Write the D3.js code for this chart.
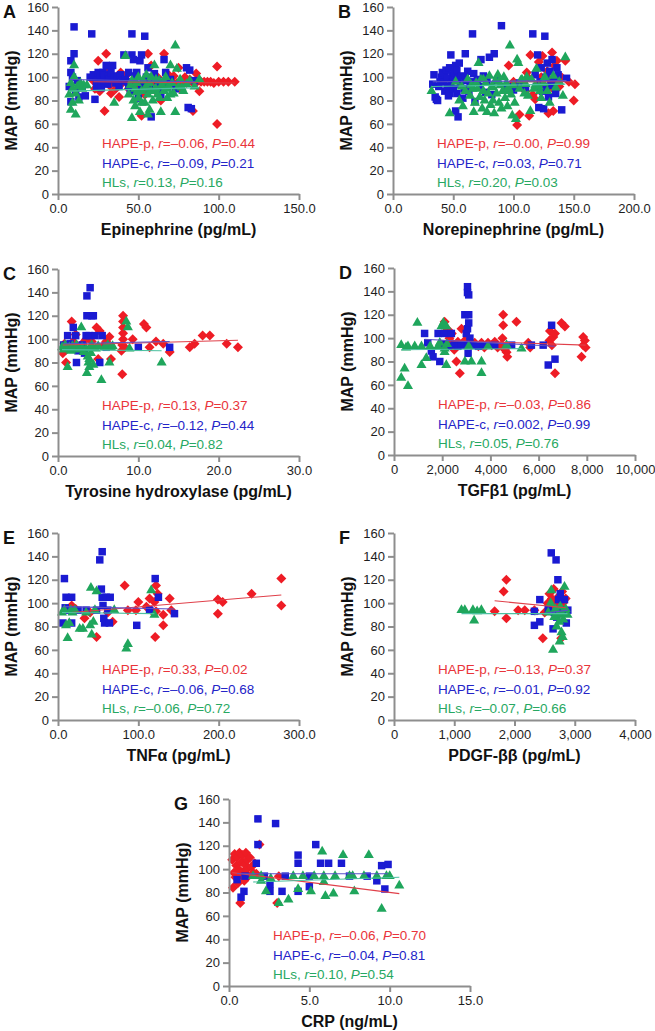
<!DOCTYPE html>
<html>
<head>
<meta charset="utf-8">
<script src="https://cdn.jsdelivr.net/npm/d3@7"></script>
<style>
  body { margin: 0; background: #fff; }
  text { font-family: "Liberation Sans", Arial, sans-serif; }
</style>
</head>
<body>
<svg id="chart" width="655" height="1031"></svg>
<script>
// ---- data (MAP in mmHg vs. each marker); p = HAPE-p, c = HAPE-c, hl = HLs ----
var epiP = [[22,97],[23,90],[24,102],[25,114],[26,88],[27,95],[28,100],[29,71],[30,120],[31,108],[32,93],[33,86],[34,100],[35,97],[36,90],[38,83],[39,104],[40,95],[42,101],[44,90],[46,96],[48,99],[50,92],[52,67],[54,85],[56,120],[58,110],[59,96],[61,88],[62,100],[64,80],[66,120],[67,93],[68,103],[70,97],[72,101],[74,95],[75,108],[76,90],[78,96],[79,100],[80,95],[82,98],[84,71],[85,94],[86,103],[88,88],[89,96],[91,96],[93,96],[95,96],[97,95],[99,109],[99,60],[100,96],[103,96],[106,96],[110,96]];
var epiC = [[7,92],[8,104],[8,79],[8,114],[9,100],[10,120],[10,143],[11,88],[12,97],[13,83],[15,92],[17,84],[20,100],[21,137],[22,102],[23,81],[24,96],[24,92],[25,104],[26,100],[27,91],[27,96],[28,104],[29,97],[29,102],[30,110],[31,101],[31,94],[32,98],[33,104],[34,110],[35,100],[36,95],[37,101],[38,92],[39,102],[40,97],[41,119],[42,98],[43,96],[44,104],[44,93],[45,88],[46,137],[46,119],[47,115],[48,101],[49,104],[50,82],[51,114],[52,119],[52,92],[53,96],[54,135],[55,100],[55,94],[56,108],[57,90],[58,66],[59,99],[60,103],[62,97],[63,91],[64,85],[66,115],[67,104],[68,95],[70,98],[73,90],[80,108],[81,74],[82,106],[83,73],[85,97]];
var epiHL = [[7,85],[8,72],[8,95],[9,78],[9,90],[10,110],[10,100],[11,68],[11,86],[12,92],[13,80],[14,95],[15,90],[16,93],[18,93],[35,78],[42,118],[44,85],[45,93],[46,65],[46,97],[47,80],[48,90],[48,75],[49,87],[49,95],[50,100],[50,82],[51,70],[52,88],[52,78],[53,97],[54,78],[54,90],[55,92],[55,102],[56,85],[56,68],[57,95],[57,72],[58,100],[58,88],[59,80],[60,110],[60,89],[61,90],[61,98],[62,85],[63,97],[63,82],[64,70],[64,92],[65,93],[66,88],[66,96],[67,100],[68,82],[68,90],[69,92],[70,110],[70,85],[71,95],[72,86],[73,127],[73,70],[74,107],[75,92],[76,98],[77,91],[78,88],[80,94],[82,97],[85,92],[88,98]];

var neP = [[96,110],[98,88],[100,96],[103,59],[105,68],[106,93],[108,95],[110,88],[111,104],[112,100],[113,67],[114,119],[116,85],[118,81],[120,94],[121,113],[123,100],[124,118],[126,90],[128,105],[129,69],[130,98],[132,121],[132,91],[133,71],[134,110],[136,114],[136,99],[138,92],[140,100],[143,114],[146,96],[150,80],[151,94]];
var neC = [[33,94],[34,102],[35,83],[36,81],[37,80],[38,92],[39,96],[40,100],[41,104],[42,96],[43,88],[43,102],[44,106],[45,99],[45,92],[46,84],[47,108],[47,86],[48,119],[48,95],[49,102],[50,90],[50,98],[51,104],[52,71],[52,110],[53,86],[53,106],[54,66],[54,99],[55,112],[56,94],[57,101],[58,82],[59,90],[60,120],[60,100],[61,97],[62,105],[63,88],[64,93],[65,96],[66,137],[67,103],[68,79],[70,98],[72,92],[73,115],[75,101],[77,87],[78,96],[80,117],[82,85],[84,120],[86,97],[90,144],[95,92],[100,89],[105,95],[110,91],[116,137],[118,102],[119,92],[120,119],[121,74],[122,96],[123,108],[124,88],[125,73],[126,135],[127,100],[127,90],[128,112],[129,83],[130,105],[131,93],[132,115],[133,95],[134,97],[135,86],[136,108],[137,102],[140,72],[144,99]];
var neHL = [[32,88],[47,69],[52,96],[55,80],[57,92],[58,75],[60,88],[62,98],[64,84],[65,93],[66,90],[67,70],[68,78],[69,95],[70,90],[71,112],[72,83],[73,98],[74,73],[75,88],[75,98],[76,80],[77,95],[78,70],[79,86],[80,101],[81,76],[82,92],[83,80],[83,91],[84,69],[85,97],[86,86],[87,102],[88,78],[88,96],[89,93],[90,73],[91,88],[92,100],[93,82],[94,95],[94,88],[95,75],[96,90],[97,127],[98,85],[99,67],[100,93],[101,78],[102,64],[103,115],[104,112],[105,90],[106,97],[107,98],[109,86],[110,94],[111,100],[112,84],[114,71],[115,98],[117,90],[118,93],[119,107],[121,92],[122,88],[123,82],[125,95],[126,100],[128,88],[130,78],[133,101],[135,91],[138,96],[141,84],[143,117]];

var thP = [[0.6,88],[0.8,96],[1.0,80],[1.0,91],[1.3,94],[1.7,115],[1.9,98],[2.2,104],[2.5,93],[3.0,96],[3.5,100],[4.2,98],[4.8,110],[5.0,83],[5.2,107],[5.7,95],[6.0,98],[6.4,102],[6.6,83],[7.9,90],[8.0,70],[8.0,95],[8.1,100],[8.1,105],[8.1,110],[8.1,115],[8.1,120],[8.3,93],[9.3,100],[10.7,113],[11.0,110],[11.4,93],[12.2,98],[13.1,96],[13.9,89],[16.4,93],[17.0,96],[18.0,103],[18.9,103],[21.0,96],[22.4,93]];
var thC = [[0.7,95],[1.2,103],[1.5,96],[1.9,110],[2.2,103],[2.3,80],[2.5,90],[3.0,95],[3.3,88],[3.5,103],[3.6,120],[3.6,137],[3.9,103],[4.0,144],[4.2,120],[4.4,120],[4.6,103],[5.2,80],[5.5,103],[6.0,93],[10.0,93],[13.9,93]];
var thHL = [[0.5,93],[0.7,91],[0.9,95],[1.1,92],[1.2,76],[1.4,93],[1.6,90],[1.8,94],[2.0,92],[2.3,95],[2.6,91],[2.9,110],[3.0,93],[3.2,89],[3.5,92],[3.6,71],[3.7,85],[3.8,80],[3.9,76],[3.9,83],[4.0,93],[4.1,88],[4.2,95],[4.4,78],[4.7,92],[5.0,94],[5.4,65],[5.8,93],[6.2,95],[6.4,80],[6.6,93],[6.8,94],[8.5,115],[8.7,110],[8.9,92],[12.9,80]];

var tgP = [[2100,114],[2200,108],[2300,100],[2400,104],[2450,95],[2500,90],[2590,80],[2650,97],[2730,70],[2800,108],[2940,98],[3200,94],[3350,96],[3500,93],[3630,96],[3750,92],[3900,96],[4050,94],[4180,97],[4300,92],[4460,94],[4500,100],[4530,120],[4530,111],[4600,90],[4670,88],[4700,84],[5080,114],[5570,96],[5650,92],[6450,98],[6470,106],[6550,94],[6610,101],[6680,104],[6680,70],[6950,113],[7090,110],[7780,84],[7850,101],[7850,94],[7920,98],[7950,92]];
var tgC = [[1270,104],[1400,96],[1550,89],[1620,84],[1830,104],[1900,80],[2000,95],[2100,104],[2250,93],[2380,104],[2500,94],[2650,93],[2800,94],[2940,120],[3000,104],[3050,108],[3050,144],[3050,139],[3075,87],[3075,94],[3100,137],[3100,113],[3100,120],[3150,100],[3300,94],[3500,93],[3700,94],[4000,94],[4180,94],[4880,94],[5700,94],[6190,94],[6400,77],[6540,111],[6680,82]];
var tgHL = [[300,94],[300,66],[440,74],[500,92],[580,59],[580,93],[860,93],[970,113],[1140,93],[1140,77],[1340,83],[1500,93],[1830,93],[1900,96],[1970,110],[2050,113],[2100,88],[2100,91],[2170,110],[2170,77],[2200,95],[2940,80],[3100,93],[3210,80],[3630,80],[3630,70],[3900,93],[4670,94],[5290,91]];

var tnP = [[17,98],[22,95],[33,87],[40,92],[48,71],[62,92],[68,84],[83,115],[87,94],[97,94],[100,101],[110,97],[114,104],[116,94],[120,101],[121,71],[122,115],[122,93],[124,108],[131,90],[131,81],[139,104],[141,94],[199,103],[199,91],[205,101],[241,108],[278,121],[278,98]];
var tnC = [[6,83],[8,121],[9,96],[10,105],[14,94],[17,105],[17,83],[25,94],[35,94],[48,94],[52,137],[54,112],[55,144],[55,105],[56,98],[57,87],[58,83],[60,105],[62,94],[64,83],[65,105],[98,81],[114,94],[121,121],[125,105],[145,91]];
var tnHL = [[5,92],[8,94],[10,81],[12,70],[14,83],[16,94],[18,92],[21,94],[27,78],[31,78],[35,92],[40,81],[41,113],[42,73],[44,84],[46,94],[48,110],[70,94],[85,61],[87,65],[116,111],[120,90]];

var pdP = [[1670,93],[1820,110],[1865,120],[1865,87],[2060,94],[2170,94],[2330,94],[2470,70],[2500,92],[2550,100],[2580,108],[2600,96],[2620,104],[2650,112],[2670,98],[2700,102],[2720,90],[2740,106],[2760,95],[2775,70],[2790,110],[2800,100],[2830,92],[2850,104]];
var pdC = [[2330,93],[2330,81],[2420,103],[2420,84],[2560,95],[2610,143],[2640,78],[2660,92],[2690,137],[2700,88],[2720,120],[2730,103],[2760,108],[2790,94],[2830,103],[2860,83],[2885,94]];
var pdHL = [[1120,94],[1175,94],[1310,94],[1330,85],[1380,93],[1450,94],[2560,92],[2600,100],[2610,111],[2640,60],[2660,88],[2680,95],[2700,80],[2720,90],[2740,84],[2750,67],[2760,97],[2780,75],[2790,91],[2800,71],[2810,86],[2830,114],[2850,95],[2880,90]];

var crP = [[0.2,108],[0.25,84],[0.3,97],[0.35,113],[0.4,93],[0.45,103],[0.5,110],[0.55,88],[0.6,100],[0.65,114],[0.7,71],[0.75,95],[0.8,106],[0.85,112],[0.9,98],[0.95,90],[1.0,104],[1.05,114],[1.1,100],[1.15,108],[1.2,94],[1.3,110],[1.4,102],[1.5,97],[1.6,105],[1.7,96],[1.9,121],[3.0,71],[3.1,94]];
var crC = [[0.5,91],[0.75,76],[0.93,81],[1.0,94],[1.7,105],[1.8,143],[1.8,121],[2.2,94],[2.55,87],[2.55,81],[2.9,139],[3.3,81],[3.5,94],[4.3,112],[4.3,105],[4.3,81],[5.0,85],[5.0,94],[5.4,121],[5.7,105],[6.2,105],[7.0,105],[7.5,94],[8.6,94],[9.2,90],[9.5,103],[9.7,83],[9.9,104]];
var crHL = [[1.5,94],[2.0,94],[2.0,90],[2.3,81],[2.6,92],[3.1,71],[3.7,74],[4.0,94],[4.3,83],[4.6,94],[5.1,81],[5.3,94],[5.8,115],[5.9,94],[5.9,89],[6.0,77],[6.5,79],[6.6,94],[7.1,112],[7.5,94],[7.7,94],[7.8,81],[8.4,94],[8.7,112],[9.2,94],[9.5,66],[9.8,94],[10.0,94],[10.6,86]];

// fitted lines [x1, y1, x2, y2] per group (p, c, hl)
var fitA = [[22,96,110,95],[7,98,85,96],[7,88,88,91]];
var fitB = [[96,96,151,96],[33,96,144,97],[32,92,143,94]];
var fitC = [[0.6,95,22.4,99],[0.7,96,13.9,98],[0.5,91,12.9,90]];
var fitD = [[2100,98,7950,94],[1270,99,6680,93],[300,90,5290,91]];
var fitE = [[17,92,278,107],[6,97,145,95],[5,92,120,91]];
var fitF = [[1670,102,2850,96],[2330,90,2885,94],[1120,91,2880,91]];
var fitG = [[0.2,97,10.6,79],[0.5,96,9.9,96],[1.5,89,10.6,93]];

// r and P per group
var statA = [["HAPE-p","–0.06","0.44"],["HAPE-c","–0.09","0.21"],["HLs","0.13","0.16"]];
var statB = [["HAPE-p","–0.00","0.99"],["HAPE-c","0.03","0.71"],["HLs","0.20","0.03"]];
var statC = [["HAPE-p","0.13","0.37"],["HAPE-c","–0.12","0.44"],["HLs","0.04","0.82"]];
var statD = [["HAPE-p","–0.03","0.86"],["HAPE-c","0.002","0.99"],["HLs","0.05","0.76"]];
var statE = [["HAPE-p","0.33","0.02"],["HAPE-c","–0.06","0.68"],["HLs","–0.06","0.72"]];
var statF = [["HAPE-p","–0.13","0.37"],["HAPE-c","–0.01","0.92"],["HLs","–0.07","0.66"]];
var statG = [["HAPE-p","–0.06","0.70"],["HAPE-c","–0.04","0.81"],["HLs","0.10","0.54"]];

var yTicks = [0,20,40,60,80,100,120,140,160];

var oneDec = d3.format(".1f"), comma = d3.format(",");

var panels = [
  {letter:"A", title:"Epinephrine (pg/mL)", xMax:150, ticks:[0,50,100,150], fmt:oneDec, left:58, top:7, pts:[epiP,epiC,epiHL], fit:fitA, stat:statA},
  {letter:"B", title:"Norepinephrine (pg/mL)", xMax:200, ticks:[0,50,100,150,200], fmt:oneDec, left:393, top:7, pts:[neP,neC,neHL], fit:fitB, stat:statB},
  {letter:"C", title:"Tyrosine hydroxylase (pg/mL)", xMax:30, ticks:[0,10,20,30], fmt:oneDec, left:58, top:269, pts:[thP,thC,thHL], fit:fitC, stat:statC},
  {letter:"D", title:"TGFβ1 (pg/mL)", xMax:10000, ticks:[0,2000,4000,6000,8000,10000], fmt:comma, left:394, top:268, pts:[tgP,tgC,tgHL], fit:fitD, stat:statD},
  {letter:"E", title:"TNFα (pg/mL)", xMax:300, ticks:[0,100,200,300], fmt:oneDec, left:58, top:533, pts:[tnP,tnC,tnHL], fit:fitE, stat:statE},
  {letter:"F", title:"PDGF-ββ (pg/mL)", xMax:4000, ticks:[0,1000,2000,3000,4000], fmt:comma, left:394, top:533, pts:[pdP,pdC,pdHL], fit:fitF, stat:statF},
  {letter:"G", title:"CRP (ng/mL)", xMax:15, ticks:[0,5,10,15], fmt:oneDec, left:229, top:799, pts:[crP,crC,crHL], fit:fitG, stat:statG}
];

var W = 241, H = 187;
var markColor = ["#ee1c25", "#1a1ad2", "#1fa65c"];
var textColor = ["#e9343a", "#2424c8", "#27a862"];
var lineColor = ["#e0404a", "#5a50c8", "#4cc0a0"];

var diamond = "M0,-5L5,0L0,5L-5,0Z";
var square = d3.symbol().type(d3.symbolSquare).size(56)();
var triangle = d3.symbol().type(d3.symbolTriangle).size(44)();
var shapes = [diamond, square, triangle];

var svg = d3.select("#chart");

panels.forEach(function (p) {
    var g = svg.append("g").attr("transform", "translate(" + p.left + "," + p.top + ")");
    var x = d3.scaleLinear().domain([0, p.xMax]).range([0, W]);
    var y = d3.scaleLinear().domain([0, 160]).range([H, 0]);

    // points: red, blue, green
    p.pts.forEach(function (series, i) {
        g.append("g").selectAll("path")
            .data(series)
            .enter().append("path")
            .attr("d", shapes[i])
            .attr("transform", function (d) { return "translate(" + x(d[0]) + "," + y(d[1]) + ")"; })
            .style("fill", markColor[i]);
    });

    // regression lines
    g.append("g").selectAll("line")
        .data(p.fit)
        .enter().append("line")
        .attr("x1", function (d) { return x(d[0]); })
        .attr("y1", function (d) { return y(d[1]); })
        .attr("x2", function (d) { return x(d[2]); })
        .attr("y2", function (d) { return y(d[3]); })
        .style("stroke", function (d, i) { return lineColor[i]; })
        .style("stroke-width", 1.1);

    var yAxis = g.append("g")
        .call(d3.axisLeft(y).tickValues(yTicks).tickSize(6).tickSizeOuter(0).tickPadding(3));
    var xAxis = g.append("g")
        .attr("transform", "translate(0," + H + ")")
        .call(d3.axisBottom(x).tickValues(p.ticks).tickFormat(p.fmt).tickSize(6).tickSizeOuter(0).tickPadding(4));

    [yAxis, xAxis].forEach(function (a) {
        a.selectAll("path, line").style("stroke", "#8e8e8e").style("stroke-width", 2);
        a.selectAll("text").style("font-size", "13px").style("fill", "#1e1e1e")
            .style("font-family", "'Liberation Sans', Arial, sans-serif");
    });

    // panel letter
    g.append("text")
        .attr("x", -55).attr("y", 11)
        .style("font-size", "18px").style("font-weight", "bold").style("fill", "#111")
        .text(p.letter);

    // y title
    g.append("text")
        .attr("transform", "translate(-41," + (H / 2) + ") rotate(-90)")
        .attr("text-anchor", "middle")
        .style("font-size", "16px").style("font-weight", "bold").style("fill", "#111")
        .text("MAP (mmHg)");

    // x title
    g.append("text")
        .attr("x", W / 2).attr("y", H + 41)
        .attr("text-anchor", "middle")
        .style("font-size", "16px").style("font-weight", "bold").style("fill", "#111")
        .text(p.title);

    // r / P annotations
    var base = [H - 46, H - 26.5, H - 7];
    p.stat.forEach(function (s, i) {
        var t = g.append("text")
            .attr("x", 44).attr("y", base[i])
            .style("font-size", "13.5px").style("fill", textColor[i]);
        t.append("tspan").text(s[0] + ", ");
        t.append("tspan").style("font-style", "italic").text("r");
        t.append("tspan").text("=" + s[1] + ", ");
        t.append("tspan").style("font-style", "italic").text("P");
        t.append("tspan").text("=" + s[2]);
    });
});
</script>
</body>
</html>
